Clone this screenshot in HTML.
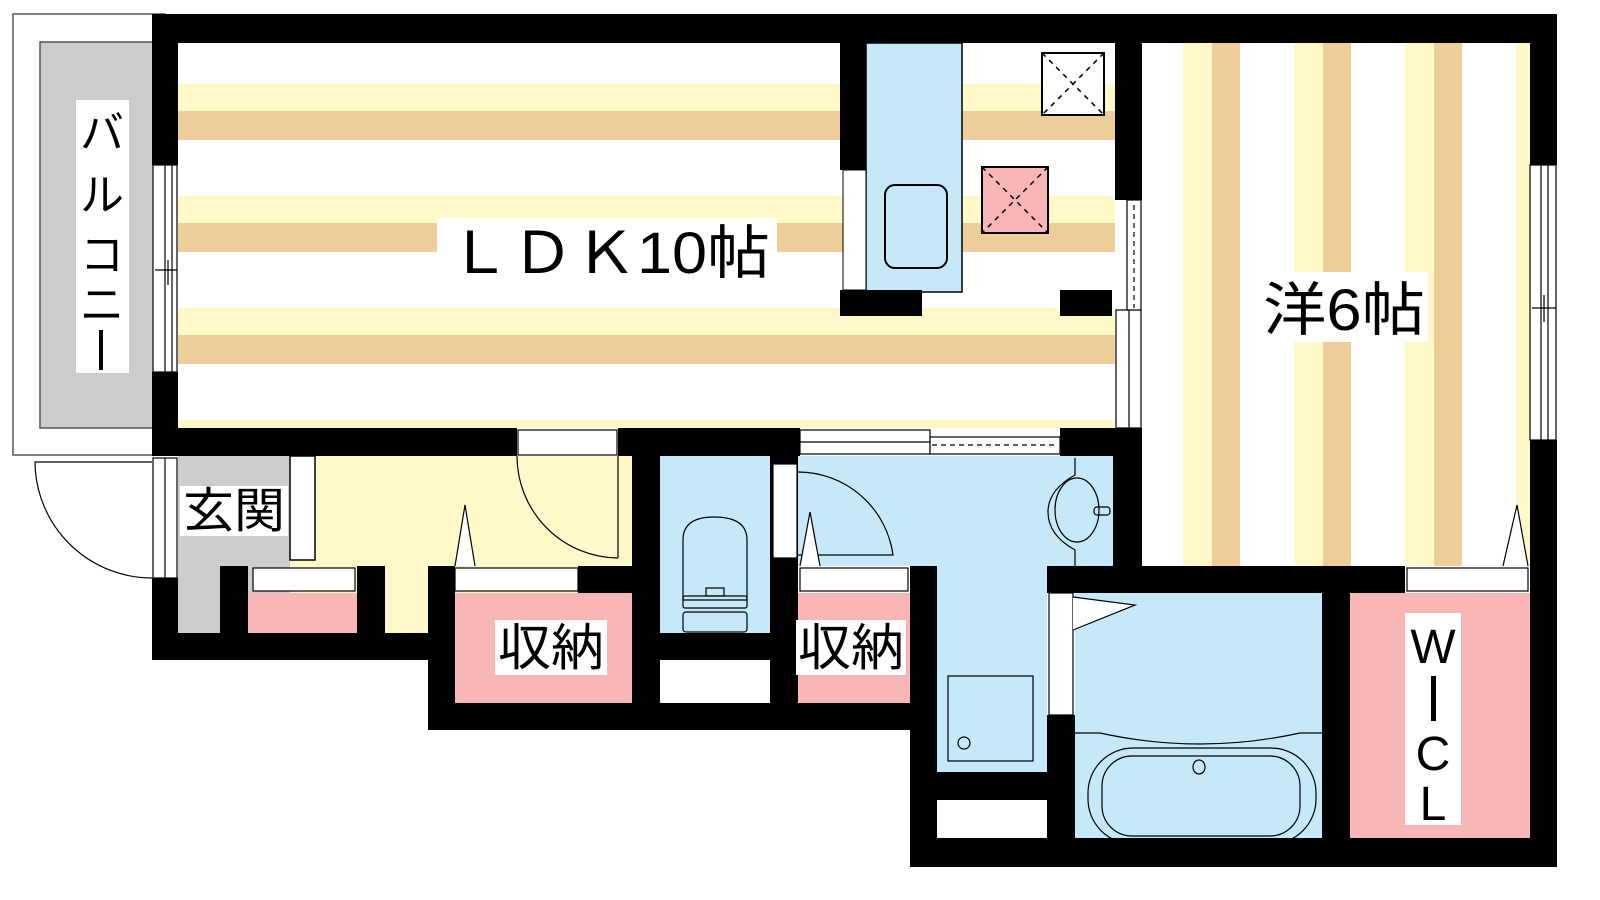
<!DOCTYPE html>
<html><head><meta charset="utf-8"><style>
html,body{margin:0;padding:0;background:#fff;width:1600px;height:900px;overflow:hidden}
svg{display:block}
text{font-family:"Liberation Sans","Noto Sans CJK JP",sans-serif;fill:#000}
</style></head><body>
<svg width="1600" height="900" viewBox="0 0 1600 900" xmlns="http://www.w3.org/2000/svg">
<defs>
<pattern id="hs" x="0" y="43" width="10" height="112" patternUnits="userSpaceOnUse">
<rect width="10" height="112" fill="#fff"/>
<rect y="41" width="10" height="27" fill="#fff9c9"/>
<rect y="68" width="10" height="29" fill="#efcd98"/>
</pattern>
<pattern id="vs" x="1142" y="0" width="111" height="10" patternUnits="userSpaceOnUse">
<rect width="111" height="10" fill="#fff"/>
<rect x="41" width="29" height="10" fill="#fff9c9"/>
<rect x="70" width="28" height="10" fill="#efcd98"/>
</pattern>
</defs>
<rect x="13" y="14" width="152" height="441" fill="#fff" stroke="#555" stroke-width="1.5"/>
<rect x="40" y="42" width="114" height="386" fill="#cccccc" stroke="#555" stroke-width="1.5"/>
<rect x="76" y="100" width="53" height="273" fill="#fff"/>
<text x="102" y="148" font-size="44" text-anchor="middle">バ</text>
<text x="102" y="210" font-size="44" text-anchor="middle">ル</text>
<text x="102" y="270" font-size="44" text-anchor="middle">コ</text>
<text x="102" y="320" font-size="44" text-anchor="middle">ニ</text>
<rect x="99" y="330" width="4" height="40" fill="#000"/>
<rect x="178" y="43" width="937" height="385" fill="url(#hs)"/>
<rect x="1142" y="43" width="388" height="523" fill="url(#vs)"/>
<rect x="866" y="43" width="96" height="249" fill="#c5e9f9" stroke="#000" stroke-width="1.5"/>
<rect x="885" y="185" width="62" height="83" rx="10" fill="#c5e9f9" stroke="#000" stroke-width="2"/>
<rect x="843" y="170" width="23" height="120" fill="#fff" stroke="#000" stroke-width="1"/>
<rect x="1042" y="53" width="62" height="62" fill="#fff" stroke="#000" stroke-width="2"/>
<path d="M1042 53L1104 115M1104 53L1042 115" stroke="#000" stroke-width="1.5" stroke-dasharray="5 5"/>
<rect x="982" y="167" width="66" height="66" fill="#f8b6b6" stroke="#000" stroke-width="2"/>
<path d="M982 167L1048 233M1048 167L982 233" stroke="#000" stroke-width="1.5" stroke-dasharray="5 5"/>
<rect x="178" y="456" width="112" height="177" fill="#cccccc"/>
<rect x="290" y="456" width="342" height="177" fill="#fff9c9"/>
<rect x="290" y="456" width="25" height="104" fill="#fff" stroke="#000" stroke-width="1.5"/>
<rect x="660" y="456" width="110" height="177" fill="#c5e9f9"/>
<rect x="660" y="660" width="110" height="43" fill="#fff"/>
<rect x="798" y="456" width="315" height="110" fill="#c5e9f9"/>
<rect x="937" y="566" width="110" height="206" fill="#c5e9f9"/>
<rect x="937" y="800" width="110" height="40" fill="#fff"/>
<rect x="1075" y="593" width="247" height="245" fill="#c5e9f9"/>
<rect x="1350" y="593" width="180" height="247" fill="#f8b6b6"/>
<rect x="455" y="593" width="177" height="110" fill="#f8b6b6"/>
<rect x="798" y="593" width="112" height="110" fill="#f8b6b6"/>
<rect x="248" y="593" width="109" height="40" fill="#f8b6b6"/>
<g fill="#000">
<rect x="152" y="14" width="1405" height="29"/>
<rect x="152" y="14" width="26" height="151"/>
<rect x="152" y="372" width="26" height="84"/>
<rect x="152" y="428" width="365" height="28"/>
<rect x="618" y="428" width="182" height="28"/>
<rect x="1060" y="428" width="82" height="28"/>
<rect x="152" y="578" width="26" height="82"/>
<rect x="152" y="633" width="276" height="27"/>
<rect x="220" y="566" width="28" height="94"/>
<rect x="357" y="566" width="28" height="94"/>
<rect x="428" y="566" width="27" height="164"/>
<rect x="578" y="566" width="54" height="27"/>
<rect x="428" y="703" width="509" height="27"/>
<rect x="632" y="428" width="28" height="302"/>
<rect x="770" y="428" width="28" height="302"/>
<rect x="770" y="456" width="28" height="10"/>
<rect x="660" y="633" width="110" height="27"/>
<rect x="910" y="566" width="27" height="301"/>
<rect x="937" y="772" width="110" height="28"/>
<rect x="1047" y="566" width="28" height="27"/>
<rect x="1047" y="715" width="28" height="152"/>
<rect x="1047" y="566" width="358" height="27"/>
<rect x="1113" y="456" width="29" height="110"/>
<rect x="1322" y="593" width="28" height="247"/>
<rect x="910" y="838" width="647" height="29"/>
<rect x="1530" y="14" width="27" height="151"/>
<rect x="1530" y="440" width="27" height="427"/>
<rect x="840" y="43" width="26" height="127"/>
<rect x="840" y="290" width="82" height="26"/>
<rect x="1060" y="290" width="52" height="26"/>
<rect x="1115" y="43" width="27" height="157"/>
</g>
<g fill="#fff" stroke="#000" stroke-width="1.2">
<rect x="153" y="165" width="24" height="207"/>
<rect x="1530" y="165" width="26" height="275"/>
<rect x="1116" y="310" width="25" height="118"/>
<rect x="1127" y="200" width="14" height="110"/>
<rect x="518" y="430" width="99" height="25"/>
<rect x="800" y="430" width="130" height="24"/>
<rect x="930" y="437" width="130" height="17"/>
<rect x="1407" y="568" width="121" height="23"/>
<rect x="455" y="568" width="123" height="23"/>
<rect x="800" y="568" width="108" height="23"/>
<rect x="253" y="568" width="102" height="23"/>
<rect x="153" y="458" width="24" height="120"/>
<rect x="1049" y="593" width="24" height="122"/>
<rect x="773" y="464" width="24" height="94"/>
</g>
<g stroke="#000" stroke-width="1.2" fill="none">
<line x1="165" y1="165" x2="165" y2="372"/><line x1="172" y1="165" x2="172" y2="372"/>
<line x1="155" y1="270" x2="177" y2="270"/><line x1="168" y1="260" x2="168" y2="285"/>
<line x1="1541" y1="165" x2="1541" y2="440"/><line x1="1548" y1="165" x2="1548" y2="440"/>
<line x1="1532" y1="308" x2="1556" y2="308"/><line x1="1544" y1="295" x2="1544" y2="322"/>
<line x1="1129" y1="310" x2="1129" y2="428"/>
<line x1="1134" y1="205" x2="1134" y2="308" stroke-dasharray="5 4"/>
<line x1="800" y1="442" x2="930" y2="442"/>
<line x1="932" y1="445" x2="1058" y2="445" stroke-dasharray="5 4"/>
<line x1="165" y1="458" x2="165" y2="578"/>
<path d="M152 578 A117 117 0 0 1 35 462 L152 462"/>
<path d="M618 558 A102 102 0 0 1 517 456 M618 456 L618 558"/>
<path d="M798 472 A96 96 0 0 1 893 555 L798 555"/>
<path d="M455 566 L465 505 L475 566" fill="#fff"/>
<path d="M800 566 L810 512 L820 566" fill="#fff"/>
<path d="M1503 566 L1517 505 L1528 566" fill="#fff"/>
<path d="M1073 597 L1135 605 L1073 630" fill="#fff"/>
<path d="M683 600 L683 540 Q683 517 714 517 Q747 517 747 540 L747 600 Z" fill="#c5e9f9"/>
<rect x="683" y="596" width="64" height="12" rx="2"/>
<rect x="706" y="588" width="18" height="8"/>
<rect x="683" y="612" width="64" height="20" rx="3"/>
<path d="M1075 458 L1075 475 Q1048 490 1048 512 Q1048 535 1075 550 L1075 566"/>
<ellipse cx="1077" cy="510" rx="22" ry="32"/>
<rect x="1094" y="507" width="16" height="8" rx="3"/>
<rect x="948" y="676" width="85" height="85"/>
<circle cx="964" cy="743" r="6"/>
<path d="M1075 733 L1100 733 Q1200 755 1300 733 L1322 733"/>
<rect x="1088" y="748" width="228" height="96" rx="45"/>
<rect x="1102" y="756" width="198" height="80" rx="30"/>
<ellipse cx="1199" cy="767" rx="6" ry="7"/>
</g>
<rect x="437" y="218" width="340" height="60" fill="#fff"/>
<text x="448" y="273" font-size="58" textLength="322" lengthAdjust="spacingAndGlyphs">ＬＤＫ10帖</text>
<rect x="1260" y="272" width="168" height="70" fill="#fff"/>
<text x="1263" y="330" font-size="58" textLength="162" lengthAdjust="spacingAndGlyphs">洋6帖</text>
<rect x="180" y="486" width="108" height="50" fill="#fff"/>
<text x="183" y="527" font-size="48" textLength="102" lengthAdjust="spacingAndGlyphs">玄関</text>
<rect x="495" y="620" width="112" height="55" fill="#fff"/>
<text x="498" y="665" font-size="50" textLength="106" lengthAdjust="spacingAndGlyphs">収納</text>
<rect x="796" y="620" width="110" height="55" fill="#fff"/>
<text x="798" y="665" font-size="50" textLength="106" lengthAdjust="spacingAndGlyphs">収納</text>
<rect x="1405" y="613" width="56" height="212" fill="#fff"/>
<text x="1433" y="663" font-size="48" text-anchor="middle">W</text>
<rect x="1431" y="676" width="5" height="45" fill="#000"/>
<text x="1433" y="770" font-size="48" text-anchor="middle">C</text>
<text x="1433" y="820" font-size="48" text-anchor="middle">L</text>
</svg>
</body></html>
